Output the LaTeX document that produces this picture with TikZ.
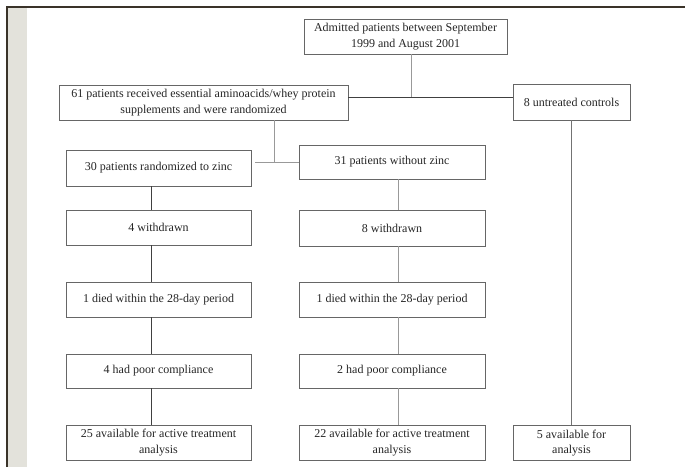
\documentclass[tikz,border=0pt]{standalone}
\usepackage{fontspec}
\setmainfont{Liberation Serif}
\usepackage{tikz}
\usetikzlibrary{positioning}
\definecolor{stripgray}{HTML}{E3E2DB}
\definecolor{framedark}{HTML}{3A3329}

\begin{document}
\begin{tikzpicture}[x=1pt, y=-1pt,
			flowbox/.style={rectangle, draw=black!60, line width=0.8pt, fill=white, align=center,
				minimum width=185pt, minimum height=35pt, inner sep=2pt, text=black!85,
				font=\fontsize{12}{15.5}\selectfont},
			smallbox/.style={flowbox, minimum width=117pt},
			darkline/.style={draw=black!75, line width=0.8pt},
			lightline/.style={draw=black!40, line width=0.8pt},
		]
		
			%Frame
			\useasboundingbox (0,0) rectangle (685,467);
			\fill[stripgray] (8,8) rectangle (27,467);
			\draw[framedark, line width=1.6pt] (7,467) -- (7,7) -- (685,7);
		
			%Nodes
			\node[flowbox, minimum width=203pt]	(adm)	at (405.5,36.5)	{Admitted patients between September\\1999 and August 2001};
			\node[flowbox, minimum width=289pt]	(rand)	at (203.5,102.5)	{61 patients received essential aminoacids/whey protein\\supplements and were randomized};
			\node[smallbox, minimum height=36pt]	(ctrl)	at (571.5,102)	{8 untreated controls};
			
			\node[flowbox, minimum height=36pt]	(zinc)	at (158.5,168)	{30 patients randomized to zinc};
			\node[flowbox, minimum width=186pt, minimum height=34pt]	(nozinc)	at (392,162)	{31 patients without zinc};
			
			\node[flowbox]	(wdL)	at (158.5,227.5)	{4 withdrawn};
			\node[flowbox, minimum width=186pt, minimum height=36pt]	(wdR)	at (392,228)	{8 withdrawn};
			
			\node[flowbox]	(diedL)	at (158.5,299.5)	{1 died within the 28-day period};
			\node[flowbox, minimum width=186pt]	(diedR)	at (392,299.5)	{1 died within the 28-day period};
			
			\node[flowbox, minimum height=34pt]	(poorL)	at (158.5,371)	{4 had poor compliance};
			\node[flowbox, minimum width=186pt, minimum height=34pt]	(poorR)	at (392,371)	{2 had poor compliance};
			
			\node[flowbox]	(availL)	at (158.5,442.5)	{25 available for active treatment\\analysis};
			\node[flowbox, minimum width=186pt]	(availR)	at (392,442.5)	{22 available for active treatment\\analysis};
			\node[smallbox]	(availC)	at (571.5,443)	{5 available for\\analysis};
		
			%Junctions
			\coordinate (split)	at (411,97);
			\coordinate (arms)	at (274,162);
			\coordinate (colL)	at (151,0);
			\coordinate (colR)	at (398,0);
		
			%Lines
			\draw[lightline]	(adm.south -| split) -- (split);
			\draw[darkline]	(rand.east |- split) -- (ctrl.west |- split);
			\draw[lightline]	(rand.south -| arms) -- (arms);
			\draw[lightline]	([xshift=4pt]zinc.east |- arms) -- (nozinc.west |- arms);
			
			\draw[darkline]	(zinc.south -| colL) -- (wdL.north -| colL);
			\draw[darkline]	(wdL.south -| colL) -- (diedL.north -| colL);
			\draw[darkline]	(diedL.south -| colL) -- (poorL.north -| colL);
			\draw[darkline]	(poorL.south -| colL) -- (availL.north -| colL);
			
			\draw[lightline]	(nozinc.south -| colR) -- (wdR.north -| colR);
			\draw[lightline]	(wdR.south -| colR) -- (diedR.north -| colR);
			\draw[lightline]	(diedR.south -| colR) -- (poorR.north -| colR);
			\draw[lightline]	(poorR.south -| colR) -- (availR.north -| colR);
			
			\draw[darkline, draw=black!55]	(ctrl.south) -- (availC.north);
		
		\end{tikzpicture}
\end{document}
